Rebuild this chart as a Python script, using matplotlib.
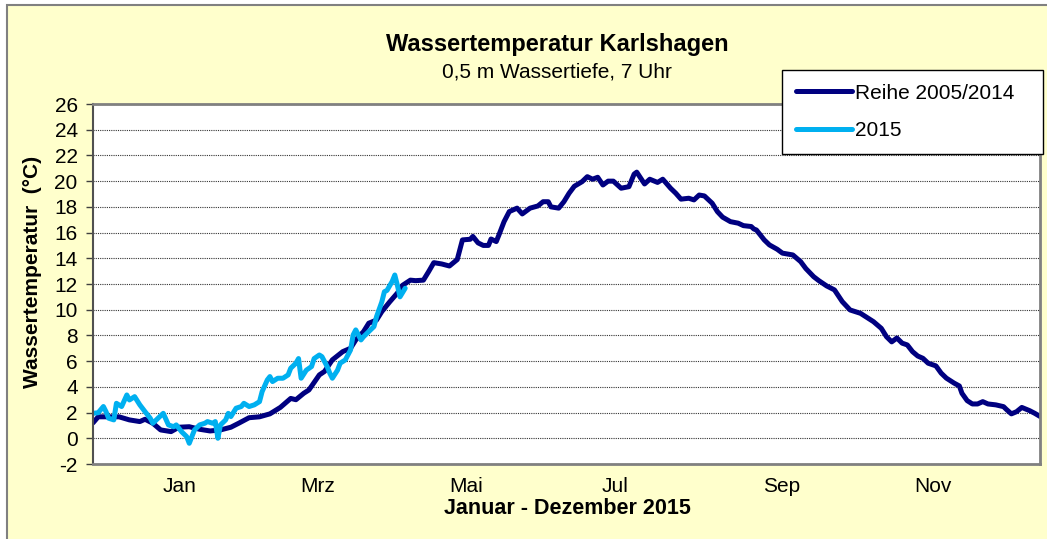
import matplotlib
matplotlib.use("Agg")
import matplotlib.pyplot as plt
from matplotlib.patches import Rectangle

plt.rcParams['font.family'] = ['Liberation Sans', 'DejaVu Sans']
plt.rcParams['axes.unicode_minus'] = False

# Reihe 2005/2014 (Tag des Jahres, Wassertemperatur in °C)
days_mean = [1, 3, 7, 11, 15, 19, 21, 24, 27, 31, 34, 38, 42, 46, 50, 54, 57, 61, 65, 69,
             73, 77, 79, 82, 84, 88, 90, 93, 97, 100, 102, 105, 107, 110, 112, 115, 118, 120,
             123, 125, 128, 130, 132, 135, 138, 141, 143, 146, 147, 149, 151, 153, 154, 156,
             157, 159, 161, 164, 166, 169, 172, 174, 176, 177, 180, 182, 184, 186, 189, 191,
             193, 195, 197, 199, 201, 204, 207, 209, 210, 213, 215, 218, 220, 223, 225, 227,
             230, 232, 234, 236, 239, 241, 243, 246, 249, 251, 254, 255, 256, 259, 261, 264,
             266, 270, 273, 275, 278, 280, 283, 286, 289, 292, 296, 299, 301, 304, 306, 308,
             310, 312, 314, 316, 318, 320, 322, 325, 327, 329, 332, 334, 335, 337, 339, 341,
             343, 345, 348, 351, 352, 354, 356, 358, 361, 363, 365]
temp_mean = [1.2, 1.67, 1.67, 1.67, 1.43, 1.3, 1.48, 1.17, 0.65, 0.52, 0.86, 0.9, 0.7, 0.57,
             0.65, 0.86, 1.17, 1.6, 1.67, 1.9, 2.4, 3.1, 3.0, 3.5, 3.76, 4.93, 5.2, 6.1, 6.74,
             7.0, 7.65, 8.3, 8.95, 9.2, 9.85, 10.6, 11.3, 11.9, 12.3, 12.26, 12.3, 12.96,
             13.66, 13.56, 13.4, 13.9, 15.43, 15.48, 15.7, 15.2, 15.0, 15.0, 15.5, 15.3, 15.8,
             16.85, 17.63, 17.9, 17.45, 17.9, 18.07, 18.4, 18.4, 18.0, 17.9, 18.4, 19.06, 19.6,
             19.96, 20.35, 20.15, 20.3, 19.7, 20.0, 20.0, 19.45, 19.57, 20.55, 20.7, 19.78,
             20.15, 19.9, 20.15, 19.45, 19.06, 18.6, 18.67, 18.54, 18.92, 18.85, 18.28, 17.63,
             17.2, 16.85, 16.73, 16.54, 16.47, 16.28, 16.2, 15.43, 15.04, 14.7, 14.4, 14.26,
             13.74, 13.2, 12.57, 12.26, 11.85, 11.54, 10.63, 9.98, 9.72, 9.33, 9.07, 8.55, 7.9,
             7.5, 7.8, 7.4, 7.26, 6.74, 6.4, 6.22, 5.84, 5.63, 5.07, 4.68, 4.29, 4.07, 3.5,
             2.93, 2.67, 2.67, 2.85, 2.67, 2.6, 2.46, 2.26, 1.9, 2.07, 2.4, 2.15, 1.94, 1.7]

# 2015
days_2015 = [1, 3, 5, 6, 7, 9, 10, 12, 14, 15, 17, 19, 21, 23, 24, 26, 28, 30, 32, 33, 35,
             37, 38, 40, 42, 44, 45, 47, 48, 49, 50, 52, 53, 54, 56, 58, 59, 61, 63, 65, 66,
             68, 69, 70, 72, 74, 76, 77, 79, 80, 81, 83, 85, 86, 88, 89, 91, 92, 93, 95, 96,
             98, 100, 101, 102, 104, 105, 107, 109, 110, 112, 113, 114, 116, 117, 118, 119, 121]
temp_2015 = [1.94, 1.99, 2.47, 2.07, 1.56, 1.43, 2.72, 2.47, 3.37, 2.98, 3.24, 2.6, 2.07,
             1.56, 1.17, 1.56, 1.94, 1.04, 0.9, 1.04, 0.52, 0.13, -0.39, 0.65, 1.04, 1.17, 1.3,
             1.17, 1.3, 0.0, 1.04, 1.43, 1.94, 1.69, 2.34, 2.47, 2.72, 2.47, 2.6, 2.85, 3.63,
             4.54, 4.8, 4.41, 4.67, 4.67, 4.93, 5.45, 5.84, 6.2, 4.67, 5.3, 5.58, 6.2, 6.48,
             6.35, 5.58, 5.07, 4.67, 5.3, 5.84, 6.1, 6.87, 8.04, 8.43, 7.65, 7.9, 8.3, 8.69,
             9.47, 10.6, 11.4, 11.5, 12.2, 12.7, 11.9, 11.0, 11.67]

month_labels = ["Jan", "Mrz", "Mai", "Jul", "Sep", "Nov"]
month_label_days = [34.4, 87.5, 144.4, 201.5, 265.8, 323.9]
y_ticks = list(range(-2, 27, 2))

W, H = 1047, 539
fig = plt.figure(figsize=(W / 100, H / 100), dpi=100, facecolor="white")
fig.patches.append(Rectangle((7 / W, -0.05), 1.1, 1 - 5 / H + 0.05, transform=fig.transFigure,
                             facecolor="#FFFFCC", edgecolor="#808080", lw=1.5, zorder=-10))

ax = fig.add_axes([93 / W, 1 - 464 / H, 947 / W, 360 / H])
ax.set_facecolor("white")

ax.plot(days_mean, temp_mean, color="#000080", lw=3.6, solid_joinstyle="round",
        solid_capstyle="round", label="Reihe 2005/2014")
ax.plot(days_2015, temp_2015, color="#00B0F0", lw=3.6, solid_joinstyle="round",
        solid_capstyle="round", label="2015")

ax.set_xlim(1, 365)
ax.set_ylim(-2, 26)
ax.set_yticks(y_ticks)
ax.set_xticks(month_label_days, month_labels)
ax.yaxis.grid(True, color="#333333", linestyle=(0, (1, 1)), lw=0.8)
ax.set_axisbelow(True)
ax.tick_params(axis="y", length=5, width=1, color="#404040", pad=6, labelsize=15)
ax.tick_params(axis="x", length=0, pad=9, labelsize=15)
for side in ["top", "right", "bottom"]:
    ax.spines[side].set_color("#808080")
    ax.spines[side].set_linewidth(2)
ax.spines["left"].set_color("#505050")
ax.spines["left"].set_linewidth(1.5)

leg = ax.legend(loc="upper left", bbox_to_anchor=(782 / W, 1 - 151 / H, 261 / W, 81 / H),
                bbox_transform=fig.transFigure, mode="expand", fontsize=15, frameon=True,
                fancybox=False, edgecolor="black", framealpha=1, borderaxespad=0,
                borderpad=0.65, handlelength=2.7, handletextpad=0.15, labelspacing=0.9)
leg.get_frame().set_linewidth(1)

fig.text(557 / W, 1 - 44 / H, "Wassertemperatur Karlshagen", ha="center", va="center",
         fontsize=17, fontweight="bold")
fig.text(557 / W, 1 - 72 / H, "0,5 m Wassertiefe, 7 Uhr", ha="center", va="center",
         fontsize=15)
fig.text(567 / W, 1 - 508 / H, "Januar - Dezember 2015", ha="center", va="center",
         fontsize=15.5, fontweight="bold")
fig.text(33 / W, 1 - 272 / H, "Wassertemperatur  (°C)", ha="center", va="center",
         rotation=90, fontsize=15, fontweight="bold")

fig.savefig("out.png", dpi=100, facecolor=fig.get_facecolor())
